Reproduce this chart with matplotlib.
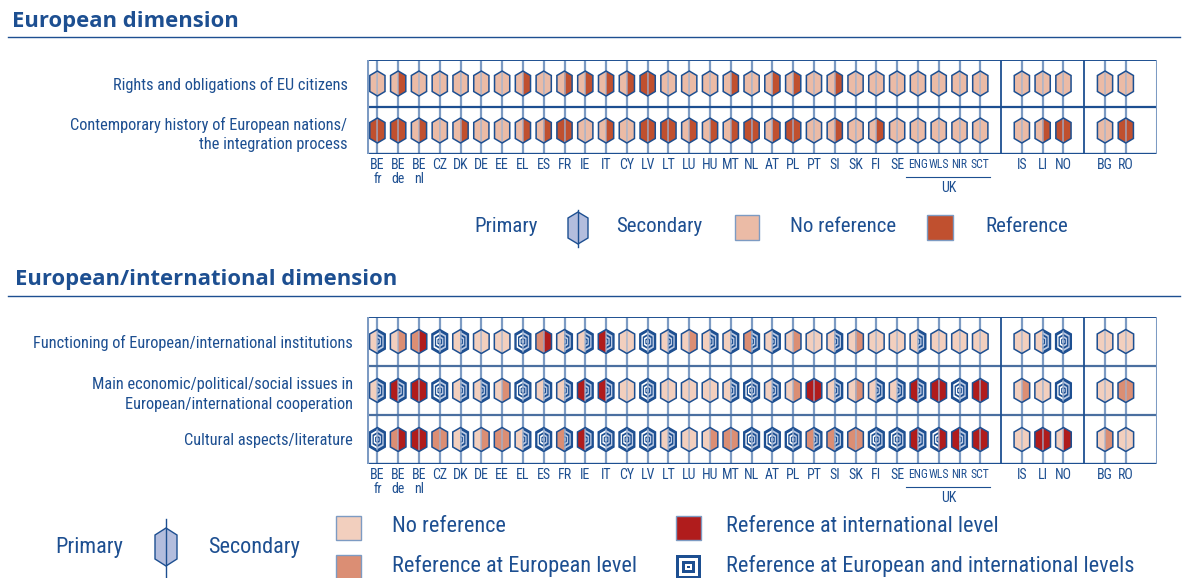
import matplotlib
matplotlib.use("Agg")
import matplotlib.pyplot as plt
from matplotlib.patches import Polygon, Rectangle
from matplotlib.transforms import blended_transform_factory
from matplotlib import font_manager

# choix d'une police étroite si possible
fl = font_manager.fontManager.ttflist
have = {f.name for f in fl}
NARROW, STRETCH = None, 'normal'
for nm in ['Liberation Sans Narrow', 'Roboto Condensed', 'Open Sans Condensed',
           'Noto Sans Condensed', 'DejaVu Sans Condensed', 'Arial Narrow']:
    if nm in have:
        NARROW = nm
        break
if NARROW is None:
    for fam in ['Roboto', 'Noto Sans', 'Open Sans', 'DejaVu Sans']:
        if any(f.name == fam and str(f.stretch) in ('condensed', 'semi-condensed',
                                                     'extra-condensed', '75', '87')
               for f in fl):
            NARROW, STRETCH = fam, 'condensed'
            break
if NARROW is None:
    NARROW = 'Roboto' if 'Roboto' in have else 'DejaVu Sans'
    SHRINK = 0.86 if NARROW == 'Roboto' else 0.8
else:
    SHRINK = 1.0
BOLD = 'Open Sans' if 'Open Sans' in have else 'DejaVu Sans'

NAVY = '#1d4f91'
LINE = '#7d9bc3'

# pays (ordre du graphique)
countries = ['BE\nfr', 'BE\nde', 'BE\nnl', 'CZ', 'DK', 'DE', 'EE', 'EL', 'ES', 'FR',
             'IE', 'IT', 'CY', 'LV', 'LT', 'LU', 'HU', 'MT', 'NL', 'AT', 'PL', 'PT',
             'SI', 'SK', 'FI', 'SE', 'ENG', 'WLS', 'NIR', 'SCT', 'IS', 'LI', 'NO',
             'BG', 'RO']
uk_parts = ['ENG', 'WLS', 'NIR', 'SCT']
group_sizes = [30, 3, 2]

# --- European dimension (0 = no reference, 1 = reference) ---
top_labels = ['Rights and obligations of EU citizens',
              'Contemporary history of European nations/\nthe integration process']
rights_pri = [0,0,0,0,0,0,0,0,0,0,0,0,0,1,0,0,0,0,0,0,0,0,0,0,0,0,0,0,0,0,0,0,0,0,0]
rights_sec = [0,1,0,0,0,0,0,1,0,1,1,1,1,1,0,0,0,1,0,1,1,0,1,0,0,0,0,0,0,0,0,0,0,0,0]
hist_pri   = [1,1,0,0,0,0,0,0,0,1,0,0,0,1,1,0,0,0,1,0,1,0,0,0,0,0,0,0,0,0,0,0,1,0,1]
hist_sec   = [1,1,1,0,1,0,0,1,1,1,0,1,0,1,1,1,1,1,1,1,1,0,1,0,1,0,0,0,0,0,0,1,1,0,1]

# --- European/international dimension
# (0 = none, 1 = European, 2 = international, 3 = both) ---
bot_labels = ['Functioning of European/international institutions',
              'Main economic/political/social issues in\nEuropean/international cooperation',
              'Cultural aspects/literature']
inst_pri = [0,0,1,3,0,0,0,3,1,0,0,2,0,3,0,0,0,0,1,0,0,0,0,0,0,0,0,0,0,0,0,0,3,0,0]
inst_sec = [3,1,2,3,3,0,0,3,2,3,3,3,0,3,3,1,3,3,3,3,1,0,3,1,0,0,3,0,0,0,0,3,3,0,0]
iss_pri  = [0,2,2,3,0,0,0,3,0,0,2,2,0,3,0,0,0,0,3,0,0,2,0,0,0,0,2,2,3,2,0,0,3,0,1]
iss_sec  = [3,3,2,3,3,3,1,3,3,3,3,3,0,3,0,0,0,3,3,3,1,2,3,1,3,3,3,2,3,2,1,0,3,0,1]
cul_pri  = [3,1,2,1,0,0,1,0,3,1,2,3,3,3,0,0,0,1,3,3,3,1,1,1,3,3,2,3,2,2,0,2,0,0,0]
cul_sec  = [3,2,2,1,3,1,1,3,3,3,3,3,3,3,3,0,1,1,3,3,3,3,3,1,3,3,3,2,3,2,0,2,2,1,0]

top_colors = ['#ebbba6', '#c0502f']
bot_colors = ['#f2cfbe', '#db8e74', '#b01c1c', None]

# positions des colonnes avec un vide entre les groupes
slots = []
pos = 0
for g in group_sizes:
    slots += list(range(pos, pos + g))
    pos += g + 1
n_slots = pos

W, H = 1183, 578
fig = plt.figure(figsize=(W / 100, H / 100), dpi=100)

ax0 = fig.add_axes([0, 0, 1, 1], zorder=0)
ax0.set_xlim(0, W)
ax0.set_ylim(H, 0)
ax0.set_axis_off()

TXT = dict(family=NARROW, fontstretch=STRETCH, color=NAVY)


def hex_pts(cx, cy, w, h, p, side=0, k=1.0, sx=1.0, sy=1.0):
    w, h, p = w * k, h * k, p * k
    if side == 0:
        pts = [(0, -h), (w, -h + p), (w, h - p), (0, h), (-w, h - p), (-w, -h + p)]
    else:
        pts = [(0, -h), (side * w, -h + p), (side * w, h - p), (0, h)]
    return [(cx + x / sx, cy + y / sy) for x, y in pts]


def draw_half(ax, cx, cy, val, side, colors, w, h, p, sx, sy):
    if colors[val] is not None:
        ax.add_patch(Polygon(hex_pts(cx, cy, w, h, p, side, 1, sx, sy),
                             closed=True, fc=colors[val], ec='none', zorder=2))
        return
    light = 'white' if side < 0 else '#bccae3'
    for i, k in enumerate([1.0, 0.8, 0.63, 0.46, 0.3, 0.16]):
        c = NAVY if i % 2 == 0 else light
        ax.add_patch(Polygon(hex_pts(cx, cy, w, h, p, side, k, sx, sy),
                             closed=True, fc=c, ec='none', zorder=2))


def hex_chart(box, labels, pri_rows, sec_rows, colors, hexsize, ypad, sep_color):
    x0, y0, x1, y1 = box
    ax = fig.add_axes([x0 / W, 1 - y1 / H, (x1 - x0) / W, (y1 - y0) / H], zorder=2)
    n = len(labels)
    ax.set_xlim(-0.5, n_slots - 0.5)
    ax.set_ylim(n, 0)
    sx = (x1 - x0) / n_slots
    sy = (y1 - y0) / n
    w, h, p = hexsize
    for s in slots:
        ax.plot([s, s], [0, n], color=LINE, lw=1.6, zorder=1, solid_capstyle='butt')
    for r in range(n):
        yc = r + 0.5
        for s, a, b in zip(slots, pri_rows[r], sec_rows[r]):
            draw_half(ax, s, yc, a, -1, colors, w, h, p, sx, sy)
            draw_half(ax, s, yc, b, 1, colors, w, h, p, sx, sy)
            ax.add_patch(Polygon(hex_pts(s, yc, w, h, p, 0, 1, sx, sy), closed=True,
                                 fc='none', ec=NAVY, lw=1.1, zorder=4))
            ax.plot([s, s], [yc - h / sy, yc + h / sy], color='#9fb3d1',
                    lw=1.1, alpha=0.8, zorder=3)
    # cadre
    for r in range(1, n):
        ax.axhline(r, color=sep_color, lw=1.6, zorder=1)
    ax.axhline(0, color=NAVY, lw=1.4, zorder=5)
    ax.axhline(n, color=NAVY, lw=2.4, zorder=5)
    ax.axvline(-0.5, color=LINE, lw=2.2, zorder=5)
    ax.axvline(n_slots - 0.5, color=LINE, lw=2.2, zorder=5)
    start = 0
    for g in group_sizes[:-1]:
        start += g + 1
        ax.axvline(start - 1, color=NAVY, lw=1.3, zorder=5)
    for sp in ax.spines.values():
        sp.set_visible(False)

    ax.set_xticks(slots)
    ax.set_xticklabels(countries, fontsize=10 * SHRINK, linespacing=1.0, **TXT)
    for t in ax.get_xticklabels():
        if t.get_text() in uk_parts:
            t.set_fontsize(8.4 * SHRINK)
    ax.tick_params(axis='x', length=0, pad=3)
    ax.set_yticks([r + 0.5 for r in range(n)])
    ax.set_yticklabels(labels, fontsize=11.8 * SHRINK, **TXT)
    for t in ax.get_yticklabels():
        t.set_linespacing(1.4)
    ax.tick_params(axis='y', length=0, pad=ypad)

    # UK
    tr = blended_transform_factory(ax.transData, ax.transAxes)
    uk = [slots[countries.index(uk_parts[0])], slots[countries.index(uk_parts[-1])]]
    ax.plot([uk[0] - 0.55, uk[1] + 0.47], [-23 / (y1 - y0)] * 2, transform=tr,
            clip_on=False, color=NAVY, lw=0.8)
    ax.text((uk[0] + uk[1]) / 2, -34 / (y1 - y0), 'UK', transform=tr, ha='center',
            va='center', fontsize=10 * SHRINK, **TXT)
    return ax


hex_chart((367, 60, 1157, 154), top_labels, [rights_pri, hist_pri],
          [rights_sec, hist_sec], top_colors, (7.6, 12.5, 4.5), 14, NAVY)
hex_chart((367, 317, 1157, 464), bot_labels, [inst_pri, iss_pri, cul_pri],
          [inst_sec, iss_sec, cul_sec], bot_colors, (7.8, 12, 4.5), 10, '#4a6fa0')

# titres
ax0.text(12, 21, 'European dimension', fontsize=15.8, fontweight='bold', color=NAVY,
         family=BOLD, va='center')
ax0.plot([8, 1180], [37, 37], color=NAVY, lw=1)
ax0.text(15, 280, 'European/international dimension', fontsize=15.8, fontweight='bold',
         color=NAVY, family=BOLD, va='center')
ax0.plot([8, 1180], [296, 296], color=NAVY, lw=1)

# légende du haut
lf = dict(va='center', **TXT)
ax0.text(474, 227, 'Primary', fontsize=15 * SHRINK, **lf)
ax0.add_patch(Polygon(hex_pts(578, 228, 10, 16, 6), closed=True, fc='#b3bddd', ec=NAVY, lw=1))
ax0.plot([578, 578], [210, 247], color=NAVY, lw=1)
ax0.text(616, 227, 'Secondary', fontsize=15 * SHRINK, **lf)
ax0.add_patch(Rectangle((735, 215), 24, 25, fc=top_colors[0], ec=LINE, lw=1))
ax0.text(790, 227, 'No reference', fontsize=15 * SHRINK, **lf)
ax0.add_patch(Rectangle((927, 215), 26, 25, fc=top_colors[1], ec=LINE, lw=1))
ax0.text(985, 227, 'Reference', fontsize=15 * SHRINK, **lf)

# légende du bas
ax0.text(55, 547, 'Primary', fontsize=16 * SHRINK, **lf)
ax0.add_patch(Polygon(hex_pts(166, 547, 11, 19, 7), closed=True, fc='#b3bddd', ec=NAVY, lw=1))
ax0.plot([166, 166], [519, 577], color=NAVY, lw=1)
ax0.text(208, 547, 'Secondary', fontsize=16 * SHRINK, **lf)
ax0.add_patch(Rectangle((336, 516), 25, 24, fc=bot_colors[0], ec=LINE, lw=1))
ax0.text(392, 527, 'No reference', fontsize=16 * SHRINK, **lf)
ax0.add_patch(Rectangle((336, 555), 25, 24, fc=bot_colors[1], ec=LINE, lw=1))
ax0.text(392, 566, 'Reference at European level', fontsize=16 * SHRINK, **lf)
ax0.add_patch(Rectangle((676, 516), 25, 24, fc=bot_colors[2], ec=LINE, lw=1))
ax0.text(726, 527, 'Reference at international level', fontsize=16 * SHRINK, **lf)
for i, d in enumerate([0, 3, 6, 9, 11]):
    ax0.add_patch(Rectangle((676 + d, 555 + d), 25 - 2 * d, 24 - 2 * d,
                            fc=NAVY if i % 2 == 0 else 'white', ec='none'))
ax0.text(726, 566, 'Reference at European and international levels',
         fontsize=16 * SHRINK, **lf)

fig.savefig('out.png', dpi=100)
